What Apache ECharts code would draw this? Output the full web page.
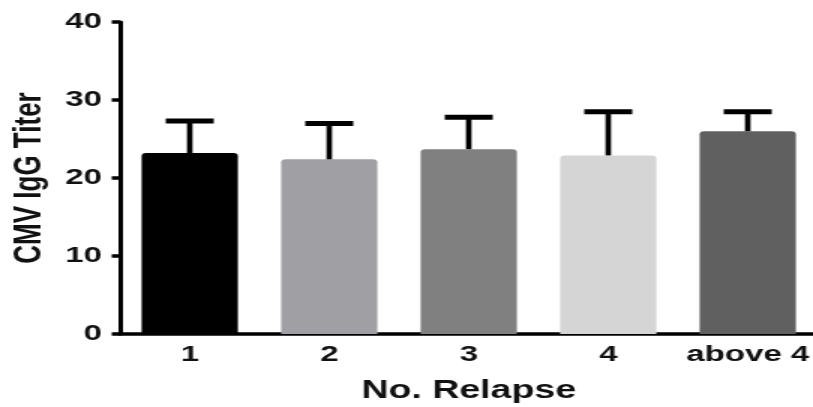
<!DOCTYPE html>
<html><head><meta charset="utf-8">
<script src="https://cdn.jsdelivr.net/npm/echarts@6/dist/echarts.min.js"></script>
<style>
html,body{margin:0;padding:0;background:#fff;overflow:hidden}
#wrap{width:813px;height:407px;overflow:hidden}
#c{width:542px;height:407px;transform:scaleX(1.5);transform-origin:0 0}
</style>
</head><body><div id="wrap"><div id="c"></div></div>
<script>
const categories = ['1', '2', '3', '4', 'above 4'];
const means = [23.2, 22.4, 23.7, 22.9, 26.0];
const upperErr = [27.3, 27.0, 27.8, 28.5, 28.5];
const barColors = ['#000000', '#a09fa4', '#808080', '#d5d5d5', '#606060'];
const yTicks = [0, 10, 20, 30, 40];

const chart = echarts.init(document.getElementById('c'));
const font = 'Liberation Sans, Arial, sans-serif';
chart.setOption({
  animation: false,
  grid: { left: 80, right: -3, top: 22, bottom: 73, containLabel: false, outerBoundsMode: 'none' },
  xAxis: {
    type: 'category', data: categories,
    axisLine: { lineStyle: { color: '#000', width: 3.5 } },
    axisTick: { alignWithLabel: true, length: 7, lineStyle: { color: '#000', width: 3 } },
    axisLabel: { interval: 0, color: '#111', fontSize: 22, fontWeight: 'bold', fontFamily: font, margin: 10 },
    name: 'No. Relapse', nameLocation: 'middle', nameGap: 45,
    nameTextStyle: { color: '#111', fontSize: 25, fontWeight: 'bold', fontFamily: font }
  },
  yAxis: {
    type: 'value', min: yTicks[0], max: yTicks[yTicks.length - 1], interval: 10,
    splitLine: { show: false },
    axisLine: { show: true, lineStyle: { color: '#000', width: 3 } },
    axisTick: { show: true, length: 5.5, lineStyle: { color: '#000', width: 3.5 } },
    axisLabel: { color: '#111', fontSize: 22, fontWeight: 'bold', fontFamily: font, margin: 12 },
    name: 'CMV IgG Titer', nameLocation: 'middle', nameGap: 46, nameRotate: 90,
    nameTextStyle: { color: '#111', fontSize: 26, fontWeight: 'bold', fontFamily: font }
  },
  series: [
    {
      type: 'bar', barWidth: '69%',
      data: means.map((v, i) => ({ value: v, itemStyle: { color: barColors[i], borderRadius: [3, 3, 0, 0] } })),
      z: 2
    },
    {
      type: 'custom', z: 3,
      data: means.map((v, i) => [i, v, upperErr[i]]),
      renderItem: function (params, api) {
        const base = api.coord([api.value(0), api.value(1)]);
        const top = api.coord([api.value(0), api.value(2)]);
        const half = 16;
        return {
          type: 'group',
          children: [
            { type: 'line', shape: { x1: base[0], y1: base[1], x2: top[0], y2: top[1] }, style: { stroke: '#000', lineWidth: 3.7 } },
            { type: 'line', shape: { x1: top[0] - half, y1: top[1], x2: top[0] + half, y2: top[1] }, style: { stroke: '#000', lineWidth: 5 } }
          ]
        };
      }
    }
  ]
});
</script></body></html>
